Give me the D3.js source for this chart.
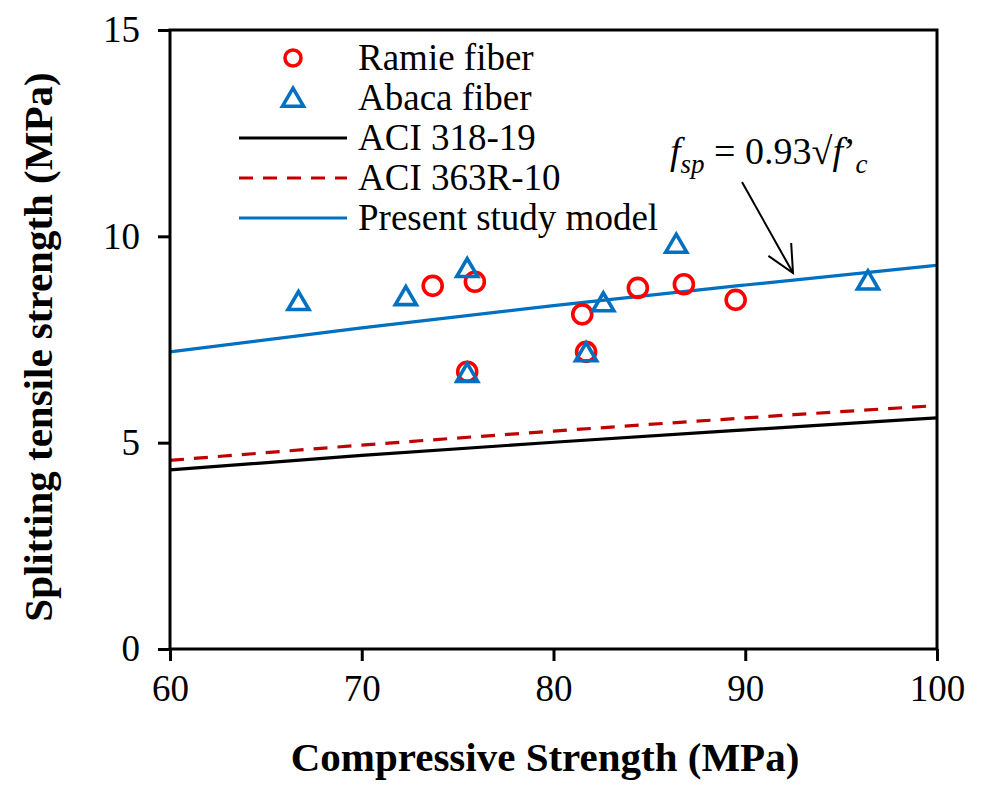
<!DOCTYPE html>
<html>
<head>
<meta charset="utf-8">
<script src="https://cdn.jsdelivr.net/npm/d3@7"></script>
<style>
  html, body { margin: 0; padding: 0; background: #fff; }
  svg { display: block; font-family: "Liberation Serif", "Times New Roman", serif; }
</style>
</head>
<body>
<svg id="chart" width="987" height="785"></svg>
<script>
// ---- data ----
const ramieX = [73.7, 75.9, 81.5, 81.7, 84.4, 86.8, 89.5, 75.5];
const ramieY = [8.80, 8.90, 8.11, 7.20, 8.75, 8.84, 8.46, 6.72];

const abacaX = [66.7, 72.3, 75.5, 82.6, 81.7, 75.5, 86.4, 96.4];
const abacaY = [8.40, 8.52, 9.20, 8.37, 7.16, 6.66, 9.79, 8.90];

const modelX = [60, 70, 80, 90, 100];
const aci318Y = [4.34, 4.69, 5.01, 5.31, 5.60];
const aci363Y = [4.57, 4.94, 5.28, 5.60, 5.90];
const presentY = [7.20, 7.78, 8.32, 8.82, 9.30];

const xTicks = [60, 70, 80, 90, 100];
const yTicks = [0, 5, 10, 15];

const legendLabels = ["Ramie fiber", "Abaca fiber", "ACI 318-19", "ACI 363R-10", "Present study model"];

// ---- layout ----
const svg = d3.select("#chart");
const pLeft = 170, pRight = 937, pTop = 30, pBottom = 649;

const x = d3.scaleLinear().domain([60, 100]).range([pLeft, pRight]);
const y = d3.scaleLinear().domain([0, 15]).range([pBottom, pTop]);

const RED = "#FF0000", BLUE = "#0070C0", DRED = "#C00000";

// model lines
const lineGen = d3.line().x(d => x(d[0])).y(d => y(d[1])).curve(d3.curveMonotoneX);
const lines = [
  { ys: aci318Y, color: "#000", dash: null },
  { ys: aci363Y, color: DRED, dash: "14,10" },
  { ys: presentY, color: BLUE, dash: null }
];
lines.forEach(l => {
  svg.append("path")
    .attr("d", lineGen(modelX.map((v, i) => [v, l.ys[i]])))
    .attr("fill", "none")
    .attr("stroke", l.color)
    .attr("stroke-width", 3.2)
    .attr("stroke-dasharray", l.dash);
});

// markers
const triPath = (cx, cy) => {
  const h = 18, w = 21;
  return `M${cx},${cy - h * 0.6} L${cx + w / 2},${cy + h * 0.4} L${cx - w / 2},${cy + h * 0.4} Z`;
};
svg.append("g").selectAll("circle")
  .data(ramieX.map((v, i) => [v, ramieY[i]]))
  .join("circle")
  .attr("cx", d => x(d[0])).attr("cy", d => y(d[1]))
  .attr("r", 9.5)
  .attr("fill", "none").attr("stroke", RED).attr("stroke-width", 3.6);

svg.append("g").selectAll("path")
  .data(abacaX.map((v, i) => [v, abacaY[i]]))
  .join("path")
  .attr("d", d => triPath(x(d[0]), y(d[1])))
  .attr("fill", "none").attr("stroke", BLUE).attr("stroke-width", 3.6)
  .attr("stroke-linejoin", "miter");

// frame
svg.append("rect")
  .attr("x", pLeft).attr("y", pTop)
  .attr("width", pRight - pLeft).attr("height", pBottom - pTop)
  .attr("fill", "none").attr("stroke", "#000").attr("stroke-width", 3);

// axes
const xAxis = svg.append("g").attr("transform", `translate(0,${pBottom})`)
  .call(d3.axisBottom(x).tickValues(xTicks).tickSize(12).tickSizeOuter(0).tickPadding(14).tickFormat(d3.format("d")));
const yAxis = svg.append("g").attr("transform", `translate(${pLeft},0)`)
  .call(d3.axisLeft(y).tickValues(yTicks).tickSize(12).tickSizeOuter(0).tickPadding(18).tickFormat(d3.format("d")));
[xAxis, yAxis].forEach(a => {
  a.select(".domain").remove();
  a.selectAll(".tick line").attr("stroke", "#000").attr("stroke-width", 3);
  a.selectAll(".tick text")
    .attr("fill", "#000")
    .style("font-family", "'Liberation Serif', 'Times New Roman', serif")
    .style("font-size", "37px");
});

// axis titles
svg.append("text")
  .attr("x", 545).attr("y", 771)
  .attr("text-anchor", "middle")
  .style("font-size", "41px").style("font-weight", "bold")
  .text("Compressive Strength (MPa)");
svg.append("text")
  .attr("transform", `translate(52,347) rotate(-90)`)
  .attr("text-anchor", "middle")
  .style("font-size", "41px").style("font-weight", "bold")
  .text("Splitting tensile strength (MPa)");

// legend
const legY = [58, 98, 138, 178, 218];
const lg = svg.append("g");
lg.append("circle").attr("cx", 293).attr("cy", legY[0]).attr("r", 8)
  .attr("fill", "none").attr("stroke", RED).attr("stroke-width", 3.6);
lg.append("path").attr("d", triPath(293, legY[1] + 1))
  .attr("fill", "none").attr("stroke", BLUE).attr("stroke-width", 3.6);
[[2, "#000", null], [3, DRED, "14,10"], [4, BLUE, null]].forEach(([i, c, da]) => {
  lg.append("line").attr("x1", 239).attr("x2", 347).attr("y1", legY[i]).attr("y2", legY[i])
    .attr("stroke", c).attr("stroke-width", 3.2).attr("stroke-dasharray", da);
});
legendLabels.forEach((t, i) => {
  lg.append("text").attr("x", 358).attr("y", legY[i] + 12)
    .style("font-size", "37px").attr("fill", "#000").text(t);
});

// annotation
const ann = svg.append("text").attr("x", 670).attr("y", 164).style("font-size", "38px").attr("fill", "#000");
ann.append("tspan").style("font-style", "italic").text("f");
ann.append("tspan").style("font-style", "italic").style("font-size", "27px").attr("dy", 9).text("sp");
ann.append("tspan").attr("dy", -9).text(" = 0.93\u221A");
ann.append("tspan").style("font-style", "italic").text("f");
ann.append("tspan").text("\u2019");
ann.append("tspan").style("font-style", "italic").style("font-size", "27px").attr("dy", 9).text("c");

// arrow
const ax1 = 742, ay1 = 182, ax2 = 793, ay2 = 273;
svg.append("line").attr("x1", ax1).attr("y1", ay1).attr("x2", ax2).attr("y2", ay2)
  .attr("stroke", "#000").attr("stroke-width", 2);
const ang = Math.atan2(ay2 - ay1, ax2 - ax1);
const hl = 30, spread = 0.45;
svg.append("path")
  .attr("d", `M${ax2 - hl * Math.cos(ang - spread)},${ay2 - hl * Math.sin(ang - spread)} L${ax2},${ay2} L${ax2 - hl * Math.cos(ang + spread)},${ay2 - hl * Math.sin(ang + spread)}`)
  .attr("fill", "none").attr("stroke", "#000").attr("stroke-width", 2);
</script>
</body>
</html>
